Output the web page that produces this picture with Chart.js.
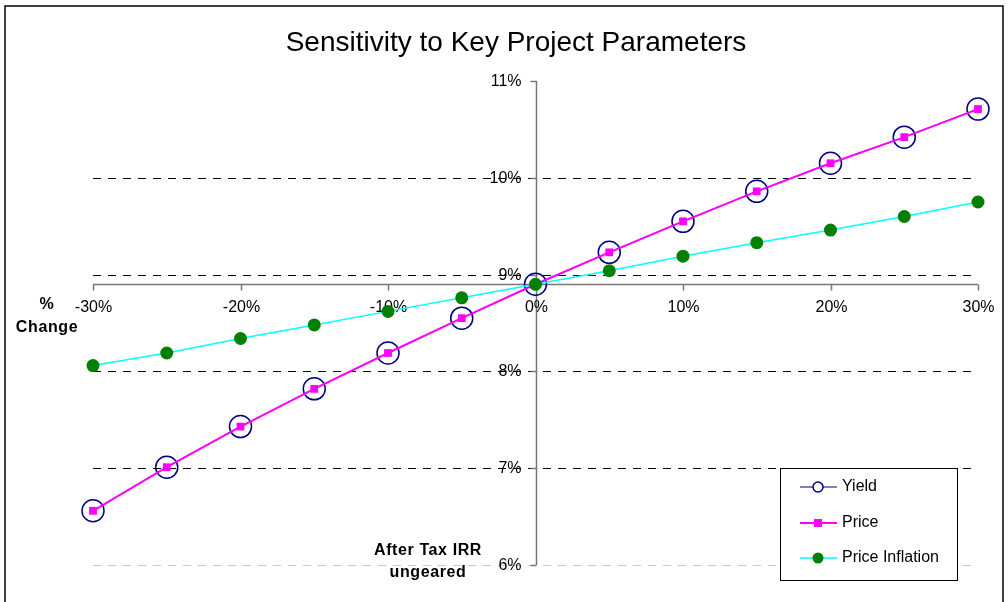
<!DOCTYPE html>
<html>
<head>
<meta charset="utf-8">
<script src="https://cdn.jsdelivr.net/npm/chart.js@4/dist/chart.umd.min.js"></script>
<style>
  html, body { margin: 0; padding: 0; background: #fff; }
  canvas { display: block; }
</style>
</head>
<body>
<canvas id="c" width="1008" height="602"></canvas>
<script>
// ---- data ----
const changes = [-30, -25, -20, -15, -10, -5, 0, 5, 10, 15, 20, 25, 30];
const yieldIRR = [6.56, 7.01, 7.43, 7.82, 8.19, 8.55, 8.90, 9.23, 9.55, 9.86, 10.15, 10.42, 10.71];
const priceIRR = [6.56, 7.01, 7.43, 7.82, 8.19, 8.55, 8.90, 9.23, 9.55, 9.86, 10.15, 10.42, 10.71];
const inflationIRR = [8.06, 8.19, 8.34, 8.48, 8.62, 8.76, 8.90, 9.04, 9.19, 9.33, 9.46, 9.60, 9.75];
const xTicks = [-30, -20, -10, 0, 10, 20, 30];
const yTicks = [6, 7, 8, 9, 10, 11];
const xAxisCross = 8.9;
const titleText = 'Sensitivity to Key Project Parameters';
const xTitle = ['%', 'Change'];
const yTitle = ['After Tax IRR', 'ungeared'];
const seriesNames = ['Yield', 'Price', 'Price Inflation'];

const toPts = arr => changes.map((c, i) => ({x: c, y: arr[i]}));

const FONT = '"Liberation Sans", Arial, sans-serif';

const excelPlugin = {
  id: 'excelPlugin',
  beforeDatasetsDraw(chart) {
    const ctx = chart.ctx;
    const xs = chart.scales.x, ys = chart.scales.y;
    const left = xs.getPixelForValue(-30), right = xs.getPixelForValue(30);
    ctx.save();
    // gridlines
    yTicks.forEach(v => {
      if (v === 11) return;
      const y = Math.round(ys.getPixelForValue(v)) + 0.5;
      ctx.beginPath();
      ctx.setLineDash([8, 7]);
      ctx.lineWidth = 1;
      ctx.strokeStyle = v === 6 ? '#c8c8c8' : '#000';
      ctx.moveTo(left, y); ctx.lineTo(right, y);
      ctx.stroke();
    });
    ctx.setLineDash([]);
    // y axis
    const x0 = Math.round(xs.getPixelForValue(0)) + 0.5;
    ctx.strokeStyle = '#777';
    ctx.lineWidth = 1.5;
    ctx.beginPath();
    ctx.moveTo(x0, ys.getPixelForValue(11));
    ctx.lineTo(x0, ys.getPixelForValue(6));
    ctx.stroke();
    ctx.font = '16px ' + FONT;
    ctx.fillStyle = '#000';
    ctx.textAlign = 'right';
    ctx.textBaseline = 'middle';
    yTicks.forEach(v => {
      const y = Math.round(ys.getPixelForValue(v)) + 0.5;
      ctx.beginPath();
      ctx.moveTo(x0 - 6, y); ctx.lineTo(x0, y);
      ctx.stroke();
      ctx.fillText(v + '%', x0 - 15, y);
    });
    // x axis
    const yc = Math.round(ys.getPixelForValue(xAxisCross)) + 0.5;
    ctx.beginPath();
    ctx.moveTo(left, yc); ctx.lineTo(right, yc);
    ctx.stroke();
    ctx.textAlign = 'center';
    xTicks.forEach(v => {
      const x = Math.round(xs.getPixelForValue(v)) + 0.5;
      ctx.beginPath();
      ctx.moveTo(x, yc); ctx.lineTo(x, yc + 6);
      ctx.stroke();
      ctx.fillText(v + '%', x, yc + 23);
    });
    ctx.restore();
  },
  afterDraw(chart) {
    const ctx = chart.ctx;
    ctx.save();
    // outer border
    ctx.strokeStyle = '#000';
    ctx.lineWidth = 1.5;
    ctx.strokeRect(5, 6, 998, 620);
    // title
    ctx.fillStyle = '#000';
    ctx.font = '28px ' + FONT;
    ctx.textAlign = 'center';
    ctx.textBaseline = 'middle';
    ctx.fillText(titleText, 516, 43);
    // axis titles
    ctx.font = 'bold 16px ' + FONT;
    ctx.letterSpacing = '0.6px';
    ctx.fillText(xTitle[0], 47, 305);
    ctx.fillText(xTitle[1], 47, 328);
    ctx.fillText(yTitle[0], 428, 551);
    ctx.fillText(yTitle[1], 428, 573);
    ctx.letterSpacing = '0px';
    // legend
    ctx.fillStyle = '#fff';
    ctx.fillRect(780, 468, 177, 112);
    ctx.strokeStyle = '#000';
    ctx.lineWidth = 1;
    ctx.strokeRect(780.5, 468.5, 177, 112);
    const rows = [487, 523, 558];
    const ds = chart.data.datasets;
    ctx.font = '16px ' + FONT;
    ctx.textAlign = 'left';
    rows.forEach((ry, i) => {
      const d = ds[i];
      ctx.beginPath();
      ctx.strokeStyle = d.borderColor;
      ctx.lineWidth = d.borderWidth;
      ctx.moveTo(800, ry); ctx.lineTo(837, ry);
      ctx.stroke();
      if (i === 0) {
        ctx.beginPath();
        ctx.arc(818, ry, 5, 0, Math.PI * 2);
        ctx.fillStyle = '#fff';
        ctx.fill();
        ctx.lineWidth = 1.5;
        ctx.strokeStyle = d.pointBorderColor;
        ctx.stroke();
      } else if (i === 1) {
        ctx.fillStyle = d.pointBackgroundColor;
        ctx.fillRect(814, ry - 4, 8, 8);
      } else {
        ctx.beginPath();
        ctx.arc(818, ry, 5.5, 0, Math.PI * 2);
        ctx.fillStyle = d.pointBackgroundColor;
        ctx.fill();
      }
      ctx.fillStyle = '#000';
      ctx.textBaseline = 'middle';
      ctx.fillText(seriesNames[i], 842, ry);
    });
    ctx.restore();
  }
};

new Chart(document.getElementById('c'), {
  type: 'line',
  data: {
    datasets: [
      {
        label: seriesNames[0],
        data: toPts(yieldIRR),
        borderColor: '#000080',
        borderWidth: 1,
        pointStyle: 'circle',
        pointRadius: 11,
        pointBorderWidth: 1.5,
        pointBorderColor: '#000080',
        pointBackgroundColor: 'rgba(0,0,0,0)',
        order: 3,
        clip: false
      },
      {
        label: seriesNames[1],
        data: toPts(priceIRR),
        borderColor: '#ff00ff',
        borderWidth: 2,
        pointStyle: 'rect',
        pointRadius: 5.5,
        pointBorderWidth: 0,
        pointBorderColor: '#ff00ff',
        pointBackgroundColor: '#ff00ff',
        order: 2,
        clip: false
      },
      {
        label: seriesNames[2],
        data: toPts(inflationIRR),
        borderColor: '#00ffff',
        borderWidth: 1.5,
        pointStyle: 'circle',
        pointRadius: 6.5,
        pointBorderWidth: 0,
        pointBorderColor: '#008000',
        pointBackgroundColor: '#008000',
        order: 1,
        clip: false
      }
    ]
  },
  options: {
    responsive: false,
    animation: false,
    devicePixelRatio: 1,
    layout: { padding: { left: 93, right: 30, top: 81, bottom: 37 } },
    plugins: { legend: { display: false }, title: { display: false }, tooltip: { enabled: false } },
    elements: { line: { tension: 0 } },
    scales: {
      x: { type: 'linear', min: -30, max: 30, display: false },
      y: { type: 'linear', min: 6, max: 11, display: false }
    }
  },
  plugins: [excelPlugin]
});
</script>
</body>
</html>
